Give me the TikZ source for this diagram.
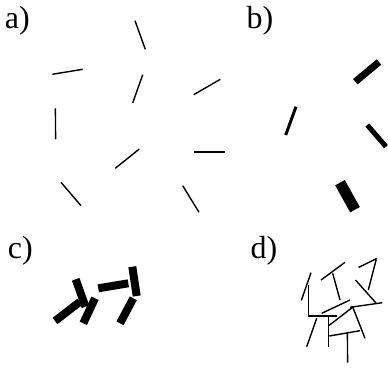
\documentclass[tikz,border=0pt]{standalone}
\usepackage{fontspec}
\setmainfont{Liberation Serif}
\begin{document}
\begin{tikzpicture}[x=1pt,y=-1pt,
  lbl/.style={anchor=base west,inner sep=0pt,outer sep=0pt,font=\fontsize{32}{32}\selectfont},
  stick/.style={line width=1.4pt,line cap=butt},
  bar/.style={line width=#1,line cap=butt}]
\useasboundingbox (0,0) rectangle (388,368);
% labels
\node[lbl] (la) at (5,28) {a)};
\node[lbl] (lb) at (246.5,28) {b)};
\node[lbl] (lc) at (8,258) {c)};
\node[lbl] (ld) at (250.5,258.5) {d)};
% panel a
\draw[stick] (135,20.7) -- (145.3,49.3);
\draw[stick] (52.3,74.3) -- (82.7,69.3);
\draw[stick] (142.7,74.7) -- (132.7,103);
\draw[stick] (193.7,94.7) -- (220.3,79.3);
\draw[stick] (55.4,108.3) -- (55.6,139.3);
\draw[stick] (115.3,168.3) -- (139.3,149);
\draw[stick] (194,152) -- (224.7,152);
\draw[stick] (61,182.3) -- (81,205.7);
\draw[stick] (182.7,185.7) -- (199,212.3);
% panel b
\draw[bar=3pt] (296,106.7) -- (285.7,135);
\draw[bar=7pt] (355.3,81.7) -- (379,62);
\draw[bar=5pt] (367.3,125) -- (386,146.7);
\draw[bar=11pt] (340,182.7) -- (355,209.7);
% panel c
\draw[bar=8pt] (55,321) -- (80,301.7);
\draw[bar=8pt] (75.7,279.3) -- (85.5,306.7);
\draw[bar=8pt] (95,298.3) -- (83.3,323.3);
\draw[bar=8pt] (98.3,288.3) -- (128.3,283.3);
\draw[bar=8pt] (132.3,266.7) -- (136.7,296);
\draw[bar=8pt] (133.3,298.3) -- (120,323.3);
% panel d
\draw[stick] (311,272.7) -- (301.3,300.5);
\draw[stick] (308.3,285) -- (308.3,316.7);
\draw[stick] (307.7,316) -- (336.7,316);
\draw[stick] (316.7,318.3) -- (306.7,346.7);
\draw[stick] (328.3,316.7) -- (328.3,346.7);
\draw[stick] (321.7,313.3) -- (350,300);
\draw[stick] (321,280) -- (345,262.3);
\draw[stick] (332.7,273.3) -- (340,300);
\draw[stick] (328.3,326) -- (353.3,306.7);
\draw[stick] (352.3,306) -- (365,338.3);
\draw[stick] (350,307.3) -- (382.3,302.7);
\draw[stick] (329.3,336) -- (360,330.7);
\draw[stick] (347.4,333.3) -- (347.6,362.7);
\draw[stick] (358.5,267.5) -- (376.7,258.5);
\draw[stick] (376.2,259.5) -- (368.3,290);
\draw[stick] (355.5,280) -- (376,303);
\end{tikzpicture}
\end{document}
